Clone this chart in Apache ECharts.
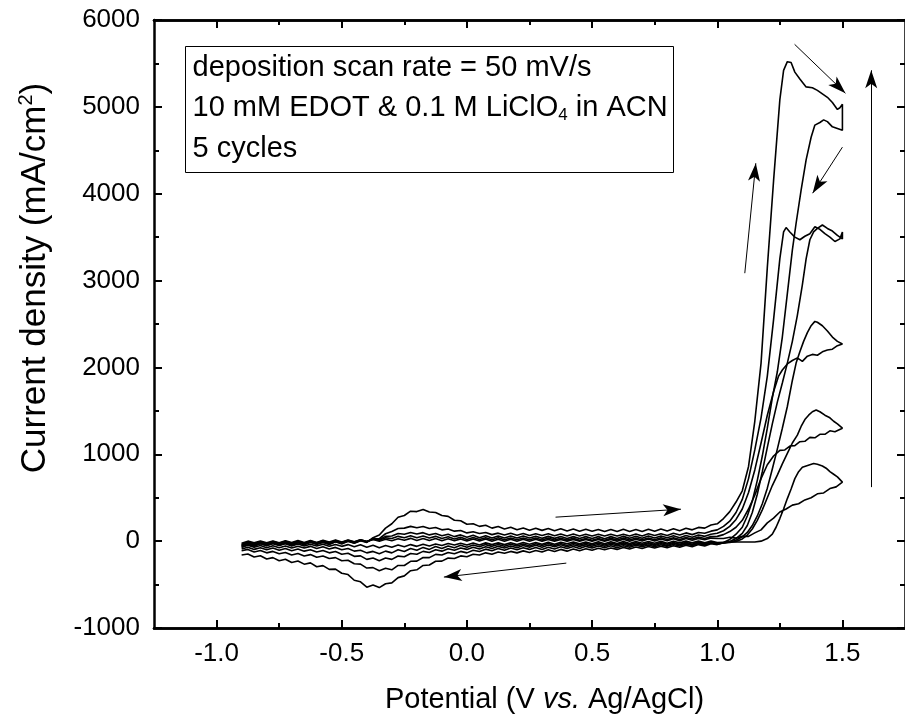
<!DOCTYPE html>
<html>
<head>
<meta charset="utf-8">
<script src="https://cdn.jsdelivr.net/npm/echarts@6/dist/echarts.min.js"></script>
<style>html,body{margin:0;padding:0;background:#fff}#chart{width:905px;height:722px}</style>
</head>
<body>
<div id="chart"></div>
<script>
// Shared potential grid for the low-potential part of each sweep (V vs Ag/AgCl)
const potentialGrid = [-0.900,-0.875,-0.850,-0.825,-0.800,-0.775,-0.750,-0.725,-0.700,-0.675,-0.650,-0.625,-0.600,-0.575,-0.550,-0.525,-0.500,-0.475,-0.450,-0.425,-0.400,-0.375,-0.350,-0.325,-0.300,-0.275,-0.250,-0.225,-0.200,-0.175,-0.150,-0.125,-0.100,-0.075,-0.050,-0.025,0.000,0.025,0.050,0.075,0.100,0.125,0.150,0.175,0.200,0.225,0.250,0.275,0.300,0.325,0.350,0.375,0.400,0.425,0.450,0.475,0.500,0.525,0.550,0.575,0.600,0.625,0.650,0.675,0.700,0.725,0.750,0.775,0.800,0.825,0.850,0.875,0.900,0.925,0.950,0.975,1.000];

// Forward (anodic) sweeps, low part, current density (mA/cm2) on potentialGrid
const c1FwdLow = [-25,0,-20,2,-20,2,-18,5,-15,8,-15,8,-15,10,-10,12,-10,12,-8,15,-5,18,0,22,5,28,10,32,8,30,8,30,5,28,5,26,2,25,2,24,0,22,0,22,0,22,0,22,0,20,0,20,0,20,0,20,0,20,0,20,0,22,0,22,2,24,2,25,5,28,5,30,10,32,15,35,30];
const c2FwdLow = [-35,-10,-30,-8,-30,-5,-25,-2,-25,0,-25,2,-20,5,-20,8,-15,10,-10,15,-5,22,10,38,30,55,40,62,40,60,35,55,30,50,25,45,20,42,20,40,15,38,15,36,15,36,15,35,14,35,14,34,12,32,10,30,10,30,10,32,12,35,14,36,15,36,15,38,20,40,20,42,25,48,30,52,55];
const c3FwdLow = [-45,-18,-40,-15,-35,-12,-35,-10,-30,-8,-30,-5,-25,-2,-25,2,-20,5,-15,10,-5,25,20,55,60,88,80,100,82,98,72,88,62,80,52,72,45,68,40,62,35,58,35,58,35,58,35,56,32,55,32,54,30,52,30,52,30,52,28,52,30,55,32,56,34,58,35,60,40,62,40,66,45,70,55,80,90];
const c4FwdLow = [-55,-25,-45,-18,-42,-20,-40,-18,-42,-15,-35,-12,-30,-8,-32,-8,-25,-2,-20,8,-10,25,30,85,110,145,150,170,155,168,145,158,130,140,115,122,95,108,88,100,75,92,70,90,68,88,65,85,65,84,62,82,60,82,60,80,60,80,58,80,60,80,60,82,60,84,65,86,65,90,70,95,75,100,90,115,130];
const c5FwdLow = [-70,-40,-58,-28,-52,-22,-48,-20,-50,-18,-42,-12,-38,-15,-40,-8,-32,-2,-25,5,-15,40,70,150,200,275,295,345,340,365,335,330,295,285,240,235,195,200,170,182,150,168,140,160,130,152,125,148,124,146,120,142,118,140,114,138,113,135,110,134,110,136,112,134,110,136,114,140,118,142,120,148,130,158,150,185,200];

// Reverse (cathodic) sweeps, low part, on potentialGrid (listed by ascending potential)
const c1RevLow = [-50,-28,-50,-30,-50,-30,-50,-30,-55,-32,-55,-35,-55,-35,-60,-38,-60,-40,-65,-42,-70,-48,-75,-50,-70,-45,-65,-40,-60,-35,-55,-32,-50,-28,-45,-25,-45,-22,-45,-20,-40,-20,-40,-18,-40,-15,-35,-15,-35,-12,-35,-12,-30,-10,-30,-10,-30,-8,-30,-8,-28,-5,-28,-5,-25,-5,-25,-2,-25,-2,-20,0,-20,0,-18,2,-15];
const c2RevLow = [-70,-48,-70,-50,-75,-52,-75,-55,-80,-58,-80,-60,-85,-65,-90,-72,-100,-85,-115,-105,-135,-118,-145,-115,-135,-100,-120,-85,-105,-72,-95,-62,-85,-55,-75,-48,-70,-45,-65,-40,-60,-38,-60,-35,-55,-32,-55,-30,-50,-28,-50,-28,-50,-25,-45,-25,-45,-22,-45,-22,-40,-20,-40,-18,-40,-18,-40,-15,-35,-15,-35,-12,-35,-10,-30,-8,-25];
const c3RevLow = [-90,-70,-95,-75,-100,-80,-105,-85,-110,-90,-115,-98,-125,-108,-135,-120,-150,-140,-175,-170,-210,-195,-225,-195,-210,-172,-180,-142,-150,-118,-130,-100,-115,-88,-105,-78,-95,-70,-90,-65,-85,-60,-80,-55,-75,-50,-70,-48,-70,-45,-65,-42,-65,-42,-60,-40,-60,-38,-60,-36,-55,-35,-55,-32,-50,-30,-50,-28,-50,-25,-45,-22,-45,-20,-40,-15,-30];
const c4RevLow = [-110,-95,-125,-108,-135,-118,-145,-130,-160,-142,-170,-155,-185,-170,-200,-190,-225,-220,-260,-265,-310,-305,-340,-312,-330,-280,-280,-232,-230,-188,-190,-152,-160,-130,-145,-118,-135,-105,-120,-92,-110,-85,-105,-80,-100,-75,-95,-72,-95,-70,-90,-65,-85,-62,-85,-60,-80,-55,-75,-52,-75,-52,-70,-48,-65,-45,-65,-42,-60,-38,-55,-32,-50,-28,-45,-22,-35];
const c5RevLow = [-160,-148,-182,-168,-205,-190,-225,-208,-245,-228,-265,-250,-295,-282,-325,-322,-370,-385,-450,-468,-530,-505,-535,-490,-480,-420,-400,-340,-330,-280,-275,-232,-230,-195,-200,-170,-180,-150,-160,-135,-150,-125,-140,-118,-135,-112,-130,-108,-125,-100,-120,-95,-115,-90,-110,-88,-105,-82,-100,-78,-95,-72,-90,-68,-85,-62,-80,-58,-75,-52,-70,-48,-65,-40,-55,-30,-40];

// High-potential part of each sweep: potentials (V) and current densities (mA/cm2)
const c1FwdHighV = [1.025,1.05,1.075,1.1,1.125,1.15,1.175,1.2,1.225,1.25,1.275,1.3,1.325,1.35,1.375,1.4,1.425,1.45,1.475,1.5];
const c1FwdHighI = [30,45,35,55,55,95,130,210,265,335,370,415,430,475,500,545,555,605,625,680];
const c1RevHighV = [1.5,1.48,1.465,1.45,1.435,1.42,1.4,1.385,1.37,1.355,1.34,1.325,1.31,1.295,1.28,1.265,1.25,1.235,1.22,1.2,1.175,1.15,1.1,1.05];
const c1RevHighI = [702,740,770,800,840,865,885,894,880,865,850,800,720,600,490,370,260,160,80,30,0,-10,-10,-10];

const c2FwdHighV = [1.025,1.05,1.075,1.1,1.125,1.15,1.175,1.2,1.225,1.25,1.27,1.29,1.31,1.33,1.35,1.37,1.39,1.41,1.43,1.45,1.47,1.5];
const c2FwdHighI = [75,110,160,240,370,530,720,880,980,1045,1050,1095,1100,1145,1150,1195,1190,1230,1230,1270,1260,1300];
const c2RevHighV = [1.5,1.48,1.465,1.45,1.43,1.41,1.395,1.38,1.365,1.35,1.335,1.32,1.3,1.28,1.26,1.24,1.22,1.2,1.18,1.16,1.14,1.12,1.1,1.075,1.05,1.025];
const c2RevHighI = [1316,1350,1380,1420,1450,1490,1510,1490,1450,1400,1320,1220,1130,1010,890,760,640,500,360,240,140,70,25,-5,-15,-20];

const c3FwdHighV = [1.025,1.05,1.075,1.1,1.125,1.15,1.175,1.2,1.225,1.245,1.26,1.28,1.3,1.32,1.34,1.36,1.38,1.4,1.42,1.44,1.46,1.48,1.5];
const c3FwdHighI = [120,170,250,370,560,820,1130,1450,1720,1900,1970,2040,2080,2110,2070,2130,2150,2140,2180,2200,2210,2250,2270];
const c3RevHighV = [1.5,1.48,1.46,1.44,1.42,1.4,1.39,1.375,1.36,1.345,1.33,1.315,1.3,1.28,1.26,1.24,1.22,1.2,1.18,1.16,1.14,1.12,1.1,1.075,1.05,1.025];
const c3RevHighI = [2270,2300,2350,2420,2480,2520,2530,2480,2400,2300,2180,2050,1850,1550,1300,1060,830,610,430,290,180,100,50,10,-10,-20];

const c4FwdHighV = [1.025,1.05,1.075,1.1,1.125,1.15,1.175,1.2,1.225,1.25,1.265,1.275,1.29,1.31,1.33,1.35,1.37,1.39,1.41,1.43,1.45,1.47,1.49,1.5];
const c4FwdHighI = [170,230,330,480,720,1050,1420,1900,2550,3250,3560,3610,3560,3500,3470,3510,3540,3620,3590,3540,3500,3450,3480,3560];
const c4RevHighV = [1.5,1.48,1.46,1.44,1.42,1.4,1.385,1.37,1.355,1.34,1.32,1.3,1.28,1.26,1.24,1.22,1.2,1.18,1.16,1.14,1.12,1.1,1.075,1.05,1.025];
const c4RevHighI = [3480,3520,3570,3600,3640,3600,3560,3470,3250,2950,2600,2300,2050,1820,1600,1350,1080,800,540,330,180,90,30,-5,-20];

const c5FwdHighV = [1.025,1.05,1.075,1.1,1.125,1.15,1.175,1.2,1.225,1.25,1.265,1.28,1.295,1.31,1.33,1.355,1.38,1.4,1.42,1.44,1.46,1.48,1.49,1.5];
const c5FwdHighI = [260,340,450,580,860,1380,2050,3150,4150,5080,5420,5520,5510,5400,5320,5230,5220,5190,5150,5110,5050,4970,4990,5030];
const c5RevHighV = [1.5,1.48,1.46,1.44,1.425,1.41,1.39,1.375,1.355,1.335,1.315,1.3,1.28,1.26,1.24,1.22,1.2,1.18,1.16,1.14,1.12,1.1,1.075,1.05,1.025];
const c5RevHighI = [4730,4750,4770,4830,4850,4820,4790,4650,4390,4040,3660,3350,2850,2350,1950,1650,1300,980,700,460,290,160,80,20,-15];

// Tick values
const xMajorTicks = [-1.0,-0.5,0.0,0.5,1.0,1.5];
const xMinorTicks = [-0.75,-0.25,0.25,0.75,1.25];

// Annotation arrows [start, end] in data coordinates
const arrows = [
  [[1.309,5720],[1.512,5157]],
  [[1.500,4536],[1.381,4006]],
  [[1.110,3085],[1.154,4351]],
  [[1.615,622],[1.615,5421]],
  [[0.354,276],[0.855,368]],
  [[0.397,-253],[-0.092,-414]]
];

function buildCycle(fLow, fHV, fHI, rHV, rHI, rLow) {
  const pts = [];
  potentialGrid.forEach((v, i) => pts.push([v, fLow[i]]));
  fHV.forEach((v, i) => pts.push([v, fHI[i]]));
  rHV.forEach((v, i) => pts.push([v, rHI[i]]));
  for (let i = potentialGrid.length - 1; i >= 0; i--) pts.push([potentialGrid[i], rLow[i]]);
  return pts;
}

const cycles = [
  buildCycle(c1FwdLow, c1FwdHighV, c1FwdHighI, c1RevHighV, c1RevHighI, c1RevLow),
  buildCycle(c2FwdLow, c2FwdHighV, c2FwdHighI, c2RevHighV, c2RevHighI, c2RevLow),
  buildCycle(c3FwdLow, c3FwdHighV, c3FwdHighI, c3RevHighV, c3RevHighI, c3RevLow),
  buildCycle(c4FwdLow, c4FwdHighV, c4FwdHighI, c4RevHighV, c4RevHighI, c4RevLow),
  buildCycle(c5FwdLow, c5FwdHighV, c5FwdHighI, c5RevHighV, c5RevHighI, c5RevLow)
];

const FONT = 'Liberation Sans, Arial, sans-serif';
const chart = echarts.init(document.getElementById('chart'), null, {renderer: 'canvas'});

const axisLineStyle = {show: true, onZero: false, lineStyle: {color: '#000', width: 2.5}};
function xAxisDef(pos, ticks, len, labels) {
  return {
    type: 'value', position: pos, min: -1.25, max: 1.75,
    axisLine: axisLineStyle,
    axisTick: {show: true, inside: true, length: len, customValues: ticks, lineStyle: {color: '#000', width: 2}},
    axisLabel: labels ? {show: true, customValues: ticks, formatter: v => v.toFixed(1), fontSize: 26, color: '#000', fontFamily: FONT, margin: 13} : {show: false},
    splitLine: {show: false}
  };
}

const xAxes = [
  Object.assign(xAxisDef('bottom', xMajorTicks, 8, true), {
    name: 'Potential (V {it|vs.} Ag/AgCl)', nameLocation: 'middle', nameGap: 57,
    nameTextStyle: {fontSize: 29, color: '#000', fontFamily: FONT, padding: [0, 0, 0, 30], rich: {it: {fontSize: 29, fontStyle: 'italic', fontFamily: FONT, color: '#000'}}}
  }),
  xAxisDef('bottom', xMinorTicks, 5, false),
  xAxisDef('top', xMajorTicks, 8, false),
  xAxisDef('top', xMinorTicks, 5, false)
];

function yAxisDef(pos, labels) {
  return {
    type: 'value', position: pos, min: -1000, max: 6000, interval: 1000,
    axisLine: axisLineStyle,
    axisTick: {show: true, inside: true, length: 8, lineStyle: {color: '#000', width: 2}},
    minorTick: {show: true, splitNumber: 2, length: 5, lineStyle: {color: '#000', width: 2}},
    axisLabel: labels ? {show: true, formatter: v => String(v), fontSize: 26, color: '#000', fontFamily: FONT, margin: 14} : {show: false},
    splitLine: {show: false}, minorSplitLine: {show: false}
  };
}

const yAxes = [
  Object.assign(yAxisDef('left', true), {
    name: 'Current density (mA/cm{sup|2})', nameLocation: 'middle', nameGap: 100, nameRotate: 90,
    nameTextStyle: {fontSize: 35, color: '#000', fontFamily: FONT, padding: [0, 0, 0, 92],
      rich: {sup: {fontSize: 20, fontFamily: FONT, color: '#000', padding: [0, 0, 18, 0]}}}
  }),
  yAxisDef('right', false)
];

const series = cycles.map((d, i) => ({
  type: 'line', name: 'cycle ' + (i + 1), data: d, xAxisIndex: 0, yAxisIndex: 0,
  showSymbol: false, symbol: 'none', smooth: false, animation: false,
  lineStyle: {color: '#000', width: 1.6}, silent: true
}));

series.push({
  type: 'line', name: 'arrows', data: [], xAxisIndex: 0, yAxisIndex: 0, symbol: 'none', silent: true,
  markLine: {
    silent: true, animation: false, symbol: ['none', 'arrow'], symbolSize: [9, 18],
    label: {show: false},
    lineStyle: {color: '#000', width: 1, type: 'solid'},
    data: arrows.map(a => [{coord: a[0]}, {coord: a[1]}])
  }
});

chart.setOption({
  animation: false,
  backgroundColor: '#fff',
  grid: {left: 154, right: -2, top: 20, bottom: 94, containLabel: false},
  xAxis: xAxes,
  yAxis: yAxes,
  series: series,
  graphic: [{
    type: 'group', left: 185, top: 46,
    children: [
      {type: 'rect', shape: {x: 0, y: 0, width: 488, height: 126}, style: {fill: '#fff', stroke: '#000', lineWidth: 1}},
      {type: 'text', x: 7, y: 21, style: {text: 'deposition scan rate = 50 mV/s', font: '29px ' + FONT, fill: '#000', textVerticalAlign: 'middle'}},
      {type: 'text', x: 7, y: 61, style: {text: '10 mM EDOT & 0.1 M LiClO{sub|4} in ACN', font: '29px ' + FONT, fill: '#000', textVerticalAlign: 'middle',
        rich: {sub: {fontSize: 17, fontFamily: FONT, fill: '#000', padding: [16, 0, 0, 0]}}}},
      {type: 'text', x: 7, y: 102, style: {text: '5 cycles', font: '29px ' + FONT, fill: '#000', textVerticalAlign: 'middle'}}
    ]
  }]
});
</script>
</body>
</html>
